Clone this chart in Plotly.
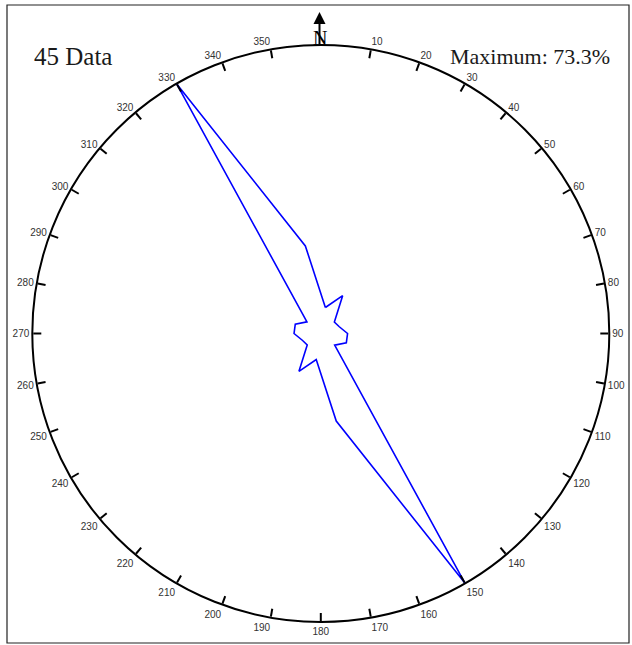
import plotly.graph_objects as go

# ---- data ----
bin_centers = [10, 30, 50, 70, 90, 110, 130, 150, 170,
               190, 210, 230, 250, 270, 290, 310, 330, 350]
half_values = [6.7, 11.1, 4.5, 5.0, 6.8, 6.9, 4.6, 73.3, 22.6]
values = half_values + half_values          # bidirectional rose (pct)
n_data = 45
max_pct = 73.3
tick_angles = list(range(10, 360, 10))
tick_labels = [str(a) for a in tick_angles]

W, H = 632, 645
cx, cy, R = 320.8, 333.5, 288.5

def px(x):
    return x / W

def py(y):
    return 1 - y / H

theta = bin_centers + [bin_centers[0]]
r = values + [values[0]]

fig = go.Figure()
fig.add_trace(go.Scatterpolar(
    r=r, theta=theta, mode="lines",
    line=dict(color="#0000ff", width=1.6),
    hoverinfo="skip", showlegend=False,
))

fig.update_layout(
    width=W, height=H,
    margin=dict(l=0, r=0, t=0, b=0),
    paper_bgcolor="white",
    plot_bgcolor="white",
    polar=dict(
        domain=dict(x=[px(cx - R), px(cx + R)], y=[py(cy + R), py(cy - R)]),
        bgcolor="white",
        radialaxis=dict(range=[0, max_pct], visible=False, showgrid=False),
        angularaxis=dict(
            direction="clockwise", rotation=90,
            tickmode="array", tickvals=tick_angles, ticktext=tick_labels,
            ticks="inside", ticklen=8, tickwidth=2, tickcolor="black",
            showline=True, linecolor="black", linewidth=2,
            showgrid=False,
            tickfont=dict(family="Liberation Sans, Arial", size=10, color="#333333"),
        ),
    ),
    shapes=[dict(type="rect", xref="paper", yref="paper",
                 x0=px(7), x1=px(629), y0=py(643), y1=py(5),
                 line=dict(color="#222222", width=1.2), fillcolor="rgba(0,0,0,0)")],
    annotations=[
        dict(text=f"{n_data} Data", x=px(32), y=py(57), xref="paper", yref="paper",
             xanchor="left", yanchor="middle", showarrow=False,
             font=dict(family="Liberation Serif, Times New Roman", size=25, color="#1a1a1a")),
        dict(text=f"Maximum: {max_pct}%", x=px(612), y=py(57), xref="paper", yref="paper",
             xanchor="right", yanchor="middle", showarrow=False,
             font=dict(family="Liberation Serif, Times New Roman", size=22, color="#1a1a1a")),
        dict(text="", x=px(319.5), y=py(12), xref="paper", yref="paper",
             showarrow=True, ax=0, ay=35, axref="pixel", ayref="pixel",
             arrowhead=2, arrowsize=1.2, arrowwidth=2, arrowcolor="black"),
        dict(text="N", x=px(320), y=py(38), xref="paper", yref="paper",
             xanchor="center", yanchor="middle", showarrow=False,
             font=dict(family="Liberation Serif, Times New Roman", size=20, color="black")),
    ],
)

fig.write_html("out.html")
